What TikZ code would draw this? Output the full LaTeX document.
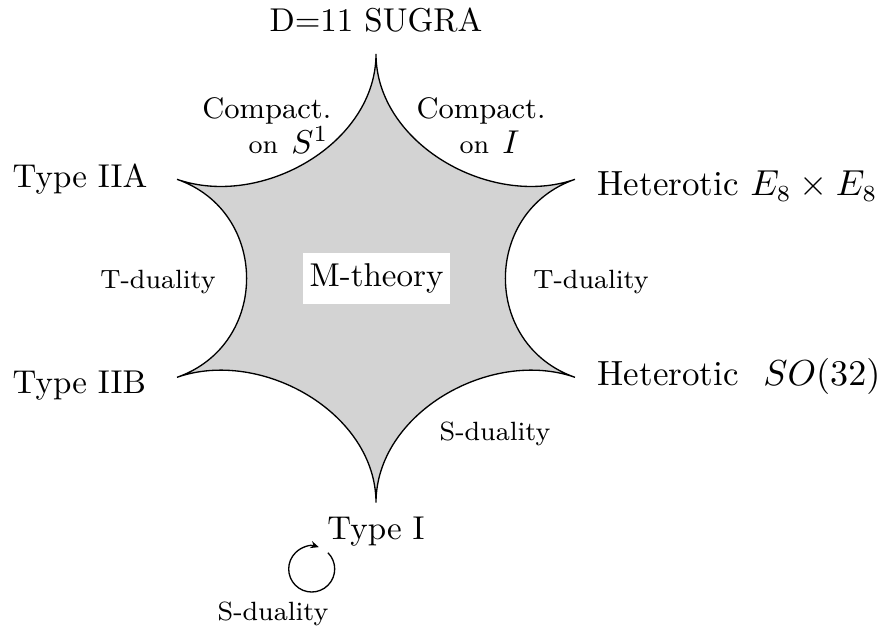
\documentclass[tikz,border=0pt]{standalone}
\usetikzlibrary{arrows.meta}
\definecolor{mfill}{RGB}{211,211,211}
\begin{document}
\begin{tikzpicture}[x=0.30303pt,y=-0.30303pt,
  big/.style={font=\fontsize{10}{12}\selectfont, inner sep=0pt},
  het/.style={font=\fontsize{10.6}{12.7}\selectfont, inner sep=0pt},
  small/.style={font=\fontsize{8}{9.6}\selectfont, inner sep=0pt},
  comp/.style={font=\fontsize{9}{11}\selectfont, inner sep=0pt},
  outline/.style={draw=black, line width=0.4pt, fill=mfill},
  loopline/.style={draw=black, line width=0.4pt, -{Stealth[length=2.5pt,width=2.2pt]}}]
\useasboundingbox (0,0) rectangle (877,633);
% cusps
\coordinate (T)  at (376,54);
\coordinate (UR) at (575,179.3);
\coordinate (LR) at (575,377.3);
\coordinate (B)  at (376,502.7);
\coordinate (LL) at (177,377.3);
\coordinate (UL) at (177,179.3);
% star
\path[outline] (T) .. controls (376,143.5) and (490.5,208.8) .. (UR)
  .. controls (482.2,211.7) and (482.2,344.9) .. (LR)
  .. controls (490.5,347.8) and (376,413.2) .. (B)
  .. controls (376,413.2) and (261.5,347.8) .. (LL)
  .. controls (269.8,344.9) and (269.8,211.7) .. (UL)
  .. controls (261.5,208.8) and (376,143.5) .. cycle;
% centre label
\node[big, fill=white, inner xsep=2pt, inner ysep=3.3pt] (M) at (376.5,278.4) {M-theory};
% theories
\node[big, anchor=base] (sugra) at (376,31.5) {D=11 SUGRA};
\node[big, anchor=base west] (iia) at (12,187.5) {Type IIA};
\node[big, anchor=base west] (iib) at (12,393) {Type IIB};
\node[het, anchor=base west] (he) at (597,195.7) {Heterotic $E_8\times E_8$};
\node[het, anchor=base west] (ho) at (597,385.8) {Heterotic\hspace{7.5pt}$SO(32)$};
\node[big, anchor=base] (ti) at (376,539) {Type I};
% dualities
\node[comp, anchor=base east] (c1a) at (332,118) {Compact.};
\node[small, anchor=base east] (c1b) at (329,153) {on\hspace{4pt}{\fontsize{10}{12}\selectfont$S^1$}};
\node[comp, anchor=base west] (c2a) at (416,118) {Compact.};
\node[small, anchor=base west] (c2b) at (459,153) {on\hspace{4pt}{\fontsize{10}{12}\selectfont$I$}};
\node[small, anchor=base] (tl) at (158,288) {T-duality};
\node[small, anchor=base] (tr) at (591,288) {T-duality};
\node[small, anchor=base] (sr) at (495,440) {S-duality};
\node[small, anchor=base] (sb) at (273,620) {S-duality};
% self-duality loop
\coordinate (cc) at (311.7,569);
\draw[loopline] (cc) ++(-45:23) arc[start angle=-45, end angle=288, radius=23];
\end{tikzpicture}
\end{document}
